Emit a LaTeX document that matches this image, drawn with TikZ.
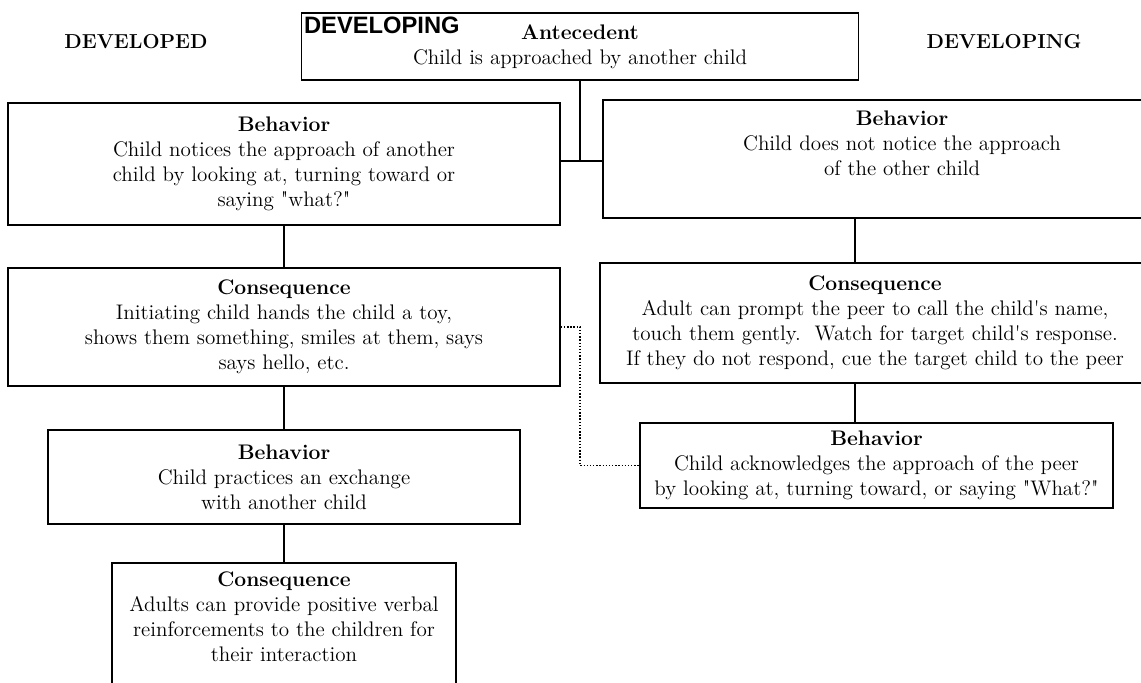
\documentclass[tikz,border=0pt]{standalone}
\usepackage{fontspec}
\newfontfamily\headsans{Liberation Sans}
\usetikzlibrary{positioning}
\newlength{\pxu}
\setlength{\pxu}{0.02cm}

\begin{document}
\begin{tikzpicture}[
    x=0.02cm, y=-0.02cm,
    every node/.style={font=\fontsize{12}{14.2}\selectfont},
    box/.style={draw, line width=0.9pt, align=center, inner sep=2pt},
    side/.style={font=\fontsize{11.5}{14}\selectfont\bfseries},
    link/.style={line width=0.9pt},
    dots/.style={densely dotted, line width=0.8pt}
]
    \useasboundingbox (0,0) rectangle (1141,682);

    \node[side] (devd) at (136,42) {DEVELOPED};
    \node[side] (devg) at (1004,42) {DEVELOPING};

    \node[box, minimum width=557\pxu, minimum height=67\pxu] (ante) at (580,46.5)
        {\textbf{Antecedent}\\Child is approached by another child};
    \node[anchor=north west, inner sep=0pt,
          font=\headsans\bfseries\fontsize{13.5}{14}\selectfont] (tag)
        at ([xshift=3\pxu, yshift=-4\pxu]ante.north west) {DEVELOPING};

    \node[box, minimum width=552\pxu, minimum height=122\pxu] (lbeh) at (284,164)
        {\textbf{Behavior}\\Child notices the approach of another\\
         child by looking at, turning toward or\\saying \textquotedbl what?\textquotedbl};
    \node[box, minimum width=598\pxu, minimum height=118\pxu] (rbeh) at (902,159)
        {\textbf{Behavior}\\Child does not notice the approach\\
         of the other child\\\strut};

    \node[box, minimum width=552\pxu, minimum height=118\pxu] (lcon) at (284,327)
        {\textbf{Consequence}\\Initiating child hands the child a toy,\\
         shows them something, smiles at them, says\\says hello, etc.};
    \node[box, minimum width=550\pxu, minimum height=120\pxu] (rcon) at (875,323)
        {\textbf{Consequence}\\Adult can prompt the peer to call the child\textquotesingle s name,\\
         touch them gently.\ \ Watch for target child\textquotesingle s response.\\
         If they do not respond, cue the target child to the peer};

    \node[box, minimum width=472\pxu, minimum height=94\pxu] (lbeh2) at (284,477)
        {\textbf{Behavior}\\Child practices an exchange\\with another child};
    \node[box, minimum width=473\pxu, minimum height=85\pxu] (rbeh2) at (876.5,465.5)
        {\textbf{Behavior}\\Child acknowledges the approach of the peer\\
         by looking at, turning toward, or saying \textquotedbl What?\textquotedbl};

    \node[box, minimum width=344\pxu, minimum height=140\pxu] (lcon2) at (284,633)
        {\textbf{Consequence}\\Adults can provide positive verbal\\
         reinforcements to the children for\\their interaction\\\strut};

    \coordinate (split) at (580,161);
    \draw[link] (ante.south) -- (split);
    \draw[link] (split -| lbeh.east) -- (split -| rbeh.west);

    \draw[link] (lbeh) -- (lcon);
    \draw[link] (lcon) -- (lbeh2);
    \draw[link] (lbeh2) -- (lcon2);

    \draw[link] ([xshift=-20\pxu]rcon.north) -- ([xshift=-20\pxu]rcon.north |- rbeh.south);
    \draw[link] ([xshift=-20\pxu]rcon.south) -- ([xshift=-20\pxu]rcon.south |- rbeh2.north);

    \coordinate (dotbend) at (580,0);
    \draw[dots] (lcon.east) -- (lcon.east -| dotbend) |- (rbeh2.west);
\end{tikzpicture}
\end{document}
